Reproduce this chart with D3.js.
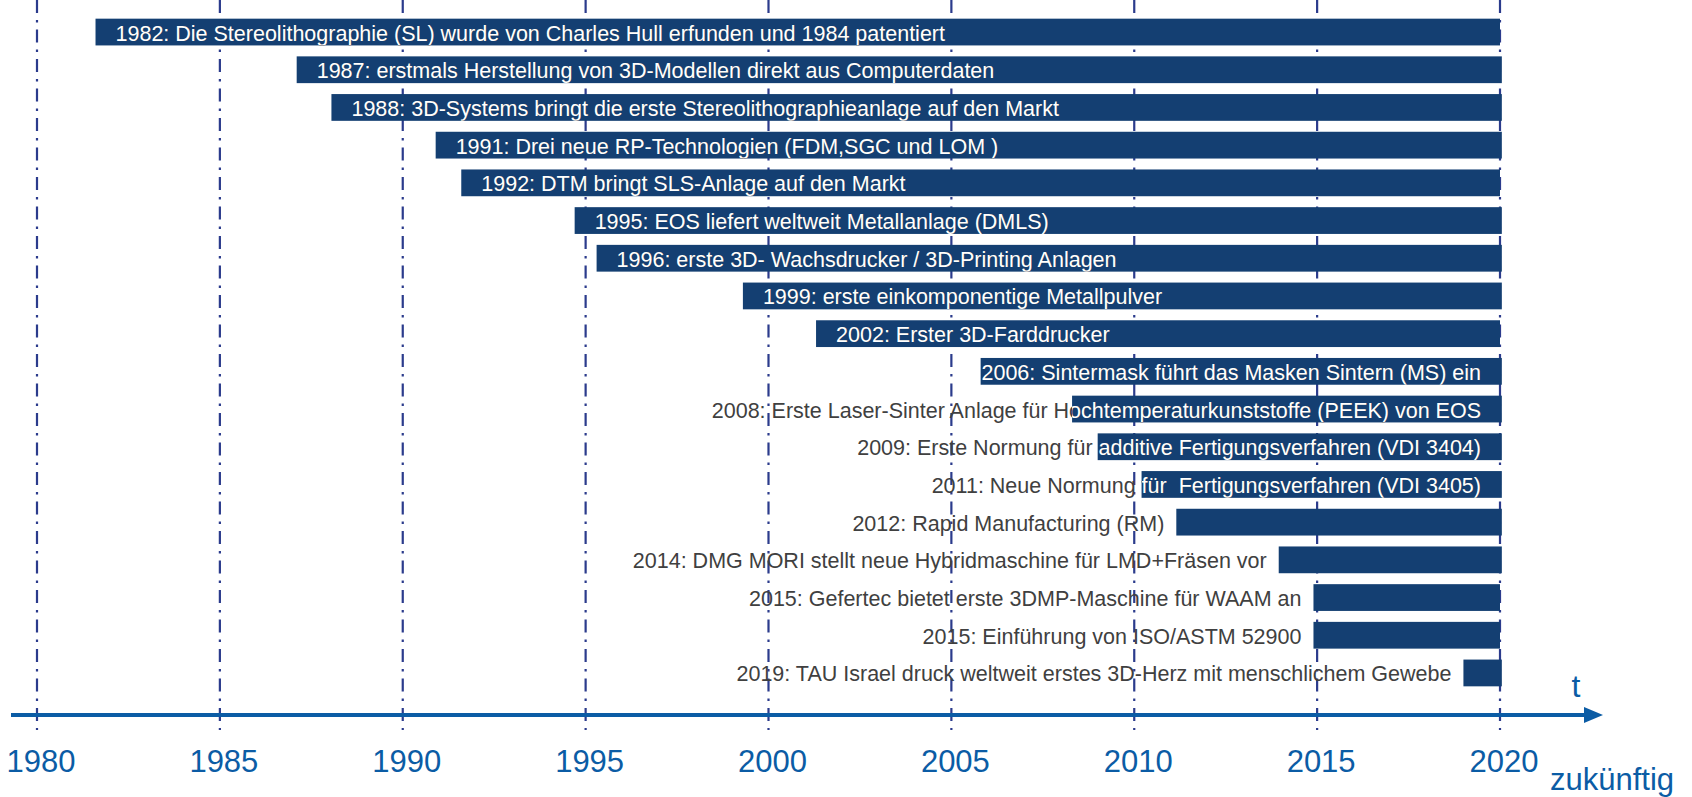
<!DOCTYPE html>
<html>
<head>
<meta charset="utf-8">
<script src="https://cdn.jsdelivr.net/npm/d3@7"></script>
<style>
  html, body { margin: 0; padding: 0; background: #fff; }
  svg { display: block; font-family: 'Liberation Sans', Arial, sans-serif; }
</style>
</head>
<body>
<div id="chart"></div>
<script>
// Meilensteine der additiven Fertigung
const labels = [
  '1982: Die Stereolithographie (SL) wurde von Charles Hull erfunden und 1984 patentiert',
  '1987: erstmals Herstellung von 3D-Modellen direkt aus Computerdaten',
  '1988: 3D-Systems bringt die erste Stereolithographieanlage auf den Markt',
  '1991: Drei neue RP-Technologien (FDM,SGC und LOM )',
  '1992: DTM bringt SLS-Anlage auf den Markt',
  '1995: EOS liefert weltweit Metallanlage (DMLS)',
  '1996: erste 3D- Wachsdrucker / 3D-Printing Anlagen',
  '1999: erste einkomponentige Metallpulver',
  '2002: Erster 3D-Farddrucker',
  '2006: Sintermask führt das Masken Sintern (MS) ein',
  '2008: Erste Laser-Sinter Anlage für Hochtemperaturkunststoffe (PEEK) von EOS',
  '2009: Erste Normung für additive Fertigungsverfahren (VDI 3404)',
  '2011: Neue Normung für  Fertigungsverfahren (VDI 3405)',
  '2012: Rapid Manufacturing (RM)',
  '2014: DMG MORI stellt neue Hybridmaschine für LMD+Fräsen vor',
  '2015: Gefertec bietet erste 3DMP-Maschine für WAAM an',
  '2015: Einführung von ISO/ASTM 52900',
  '2019: TAU Israel druck weltweit erstes 3D-Herz mit menschlichem Gewebe',
];
const barStart = [1981.6, 1987.1, 1988.05, 1990.9, 1991.6, 1994.7, 1995.3, 1999.3, 2001.3,
  2005.8, 2008.3, 2009.0, 2010.2, 2011.15, 2013.95, 2014.9, 2014.9, 2019.0];
const barEnd = [2020, 2020.05, 2020.05, 2020.05, 2020, 2020.05, 2020.05, 2020.05, 2020,
  2020.05, 2020.05, 2020.05, 2020.05, 2020.05, 2020.05, 2020, 2020, 2020.05];
// wo der Text steht: im Balken, bündig zum Ende, vor dem Balken
const labelPlace = ['in', 'in', 'in', 'in', 'in', 'in', 'in', 'in', 'in',
  'end', 'end', 'end', 'end', 'before', 'before', 'before', 'before', 'before'];
const tickYears = [1980, 1985, 1990, 1995, 2000, 2005, 2010, 2015, 2020];

const width = 1692;
const height = 797;
const barColor = '#143f72';
const axisColor = '#0b5ca5';
const gridColor = '#2b3b8c';

const svg = d3.select('#chart')
  .append('svg')
  .attr('width', width)
  .attr('height', height);

const x = d3.scaleLinear().domain([1980, 2020]).range([37, 1500]);
const y = d3.scaleBand()
  .domain(d3.range(labels.length))
  .range([13.2, 691.8])
  .paddingInner(0.29)
  .paddingOuter(0.145);

const axisY = 715;

// gestrichelte Jahreslinien
svg.append('g')
  .selectAll('line')
  .data(tickYears)
  .enter()
  .append('line')
  .attr('x1', (d) => x(d))
  .attr('x2', (d) => x(d))
  .attr('y1', 0)
  .attr('y2', 730)
  .attr('stroke', gridColor)
  .attr('stroke-width', 2.2)
  .attr('stroke-dasharray', '13,7,2.5,7');

const defs = svg.append('defs');
defs.selectAll('clipPath')
  .data(labels)
  .enter()
  .append('clipPath')
  .attr('id', (_, i) => `bar-clip-${i}`)
  .append('rect')
  .attr('x', (_, i) => x(barStart[i]))
  .attr('y', (_, i) => y(i))
  .attr('width', (_, i) => x(barEnd[i]) - x(barStart[i]))
  .attr('height', y.bandwidth());

const rows = svg.append('g')
  .selectAll('g')
  .data(labels)
  .enter()
  .append('g');

rows.append('rect')
  .attr('x', (_, i) => x(barStart[i]))
  .attr('y', (_, i) => y(i))
  .attr('width', (_, i) => x(barEnd[i]) - x(barStart[i]))
  .attr('height', y.bandwidth())
  .attr('fill', barColor);

const textX = (i) => {
  if (labelPlace[i] === 'in') return x(barStart[i]) + 20;
  if (labelPlace[i] === 'end') return x(2020) - 19;
  return x(barStart[i]) - 12;
};
const textAnchor = (i) => (labelPlace[i] === 'in' ? 'start' : 'end');

// grauer Text, darüber weißer Text nur innerhalb des Balkens
['#404040', '#ffffff'].forEach((color, k) => {
  rows.append('text')
    .attr('x', (_, i) => textX(i))
    .attr('y', (_, i) => y(i) + y.bandwidth() / 2 + 8.5)
    .attr('text-anchor', (_, i) => textAnchor(i))
    .attr('clip-path', (_, i) => (k === 1 ? `url(#bar-clip-${i})` : null))
    .attr('fill', color)
    .style('font-size', '21.5px')
    .style('white-space', 'pre')
    .text((d) => d);
});

// Zeitachse mit Pfeil
svg.append('line')
  .attr('x1', 11)
  .attr('x2', 1588)
  .attr('y1', axisY)
  .attr('y2', axisY)
  .attr('stroke', axisColor)
  .attr('stroke-width', 4);

svg.append('path')
  .attr('d', `M1584,${axisY - 8}L1603,${axisY}L1584,${axisY + 8}Z`)
  .attr('fill', axisColor);

svg.append('g')
  .selectAll('text')
  .data(tickYears)
  .enter()
  .append('text')
  .attr('x', (d) => x(d) + 4)
  .attr('y', 772)
  .attr('text-anchor', 'middle')
  .attr('fill', axisColor)
  .style('font-size', '31px')
  .text((d) => d);

svg.append('text')
  .attr('x', 1576)
  .attr('y', 697)
  .attr('text-anchor', 'middle')
  .attr('fill', axisColor)
  .style('font-size', '32px')
  .text('t');

svg.append('text')
  .attr('x', 1550)
  .attr('y', 790)
  .attr('fill', axisColor)
  .style('font-size', '31px')
  .text('zukünftig');
</script>
</body>
</html>
